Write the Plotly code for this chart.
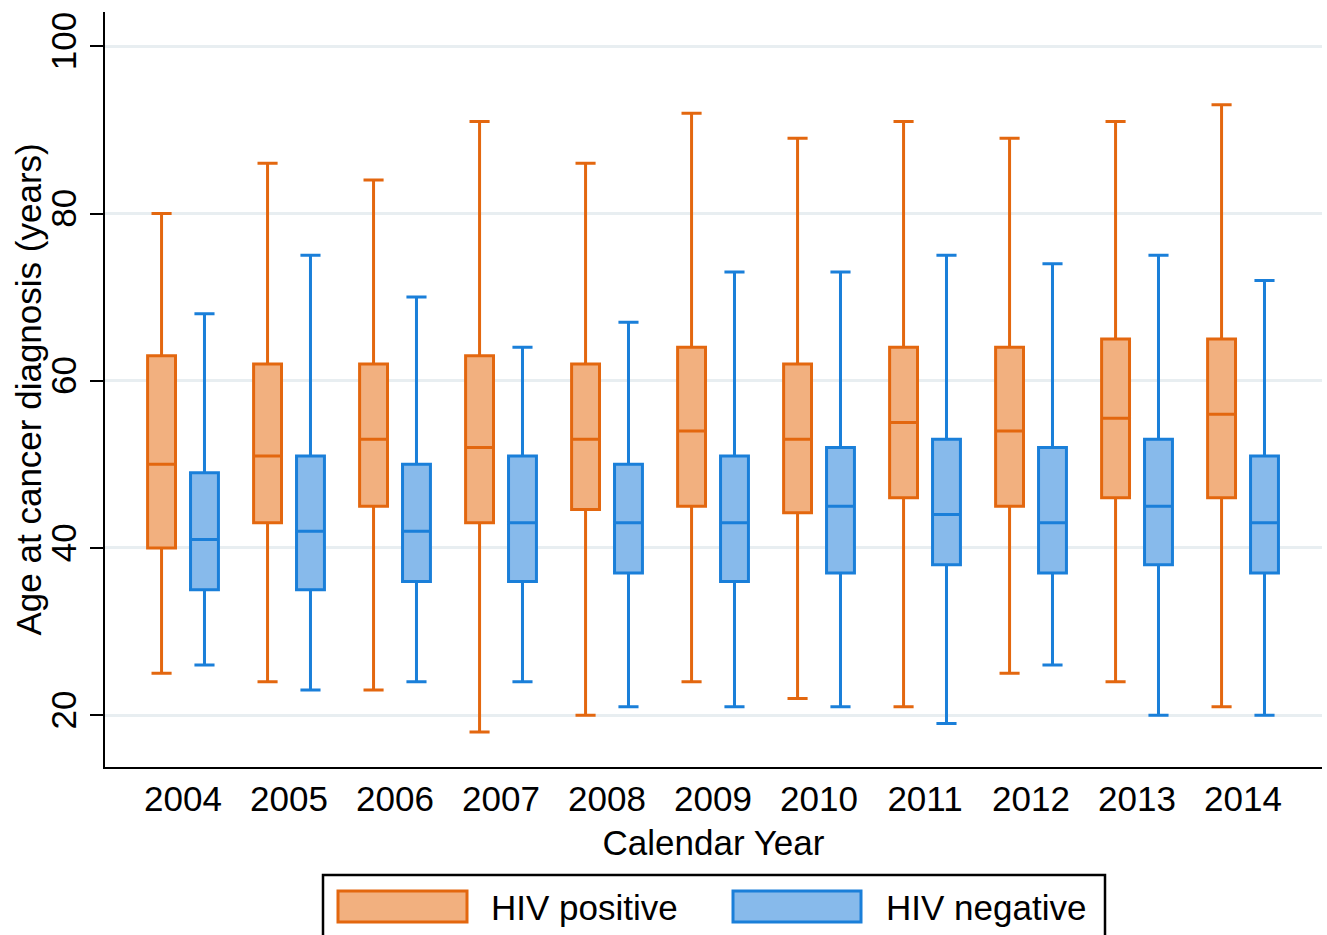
import plotly.graph_objects as go

# Calendar years on the x axis
years = ["2004", "2005", "2006", "2007", "2008", "2009",
         "2010", "2011", "2012", "2013", "2014"]

# Age at cancer diagnosis summary statistics, HIV positive
pos_low = [25, 24, 23, 18, 20, 24, 22, 21, 25, 24, 21]
pos_q1 = [40, 43, 45, 43, 44.6, 45, 44.2, 46, 45, 46, 46]
pos_med = [50, 51, 53, 52, 53, 54, 53, 55, 54, 55.5, 56]
pos_q3 = [63, 62, 62, 63, 62, 64, 62, 64, 64, 65, 65]
pos_high = [80, 86, 84, 91, 86, 92, 89, 91, 89, 91, 93]

# Age at cancer diagnosis summary statistics, HIV negative
neg_low = [26, 23, 24, 24, 21, 21, 21, 19, 26, 20, 20]
neg_q1 = [35, 35, 36, 36, 37, 36, 37, 38, 37, 38, 37]
neg_med = [41, 42, 42, 43, 43, 43, 45, 44, 43, 45, 43]
neg_q3 = [49, 51, 50, 51, 50, 51, 52, 53, 52, 53, 51]
neg_high = [68, 75, 70, 64, 67, 73, 73, 75, 74, 75, 72]

y_ticks = [20, 40, 60, 80, 100]

ORANGE_LINE, ORANGE_FILL = "#E3670F", "#F2B07F"
BLUE_LINE, BLUE_FILL = "#1A7FD9", "#87BAEB"
FONT = "Liberation Sans, Arial, sans-serif"
FS = 35

W, H = 1327, 935
M_L, M_R, M_T, M_B = 105, 5, 12, 168

fig = go.Figure()
for name, low, q1, med, q3, high, lc, fc in [
    ("HIV positive", pos_low, pos_q1, pos_med, pos_q3, pos_high, ORANGE_LINE, ORANGE_FILL),
    ("HIV negative", neg_low, neg_q1, neg_med, neg_q3, neg_high, BLUE_LINE, BLUE_FILL),
]:
    fig.add_trace(go.Box(
        name=name, x=years, lowerfence=low, q1=q1, median=med, q3=q3,
        upperfence=high, boxpoints=False, whiskerwidth=0.72,
        line=dict(color=lc, width=3), fillcolor=fc, showlegend=False,
    ))


def px_x(p):
    return (p - M_L) / (W - M_L - M_R)


def px_y(p):
    return (H - M_B - p) / (H - M_T - M_B)


# Legend drawn as a framed row of wide swatches below the plot
shapes = [dict(type="rect", xref="paper", yref="paper",
               x0=px_x(323), x1=px_x(1105), y0=px_y(945), y1=px_y(875),
               line=dict(color="black", width=2.5), fillcolor="white")]
annotations = []
for x0, x1, tx, lc, fc, label in [
    (338, 467, 489, ORANGE_LINE, ORANGE_FILL, "HIV positive"),
    (733, 861, 884, BLUE_LINE, BLUE_FILL, "HIV negative"),
]:
    shapes.append(dict(type="rect", xref="paper", yref="paper",
                       x0=px_x(x0), x1=px_x(x1), y0=px_y(922), y1=px_y(891),
                       line=dict(color=lc, width=3), fillcolor=fc))
    annotations.append(dict(xref="paper", yref="paper", x=px_x(tx), y=px_y(907),
                            xanchor="left", yanchor="middle", showarrow=False,
                            text=label, font=dict(size=FS, color="black", family=FONT)))

# Vertical y-axis title
annotations.append(dict(xref="paper", yref="paper", x=px_x(28), y=0.5,
                        xanchor="center", yanchor="middle", showarrow=False,
                        textangle=-90, text="Age at cancer diagnosis (years)",
                        font=dict(size=FS, color="black", family=FONT)))

fig.update_layout(
    width=W, height=H,
    margin=dict(l=M_L, r=M_R, t=M_T, b=M_B),
    paper_bgcolor="white", plot_bgcolor="white",
    boxmode="group", boxgap=0.19, boxgroupgap=0.35,
    font=dict(family=FONT, size=FS, color="black"),
    shapes=shapes, annotations=annotations,
    xaxis=dict(
        type="category", range=[-0.736, 10.745],
        showline=True, linecolor="black", linewidth=2,
        showgrid=False, ticks="", tickfont=dict(size=FS),
        title=dict(text="Calendar Year", font=dict(size=FS), standoff=13),
    ),
    yaxis=dict(
        range=[13.8, 104.1], tickvals=y_ticks,
        showline=True, linecolor="black", linewidth=2,
        showgrid=True, gridcolor="#E8EEF1", gridwidth=3, zeroline=False,
        ticks="outside", ticklen=13, tickwidth=2, tickcolor="black",
        tickangle=-90, tickfont=dict(size=FS),
    ),
)

fig.write_html("out.html")
